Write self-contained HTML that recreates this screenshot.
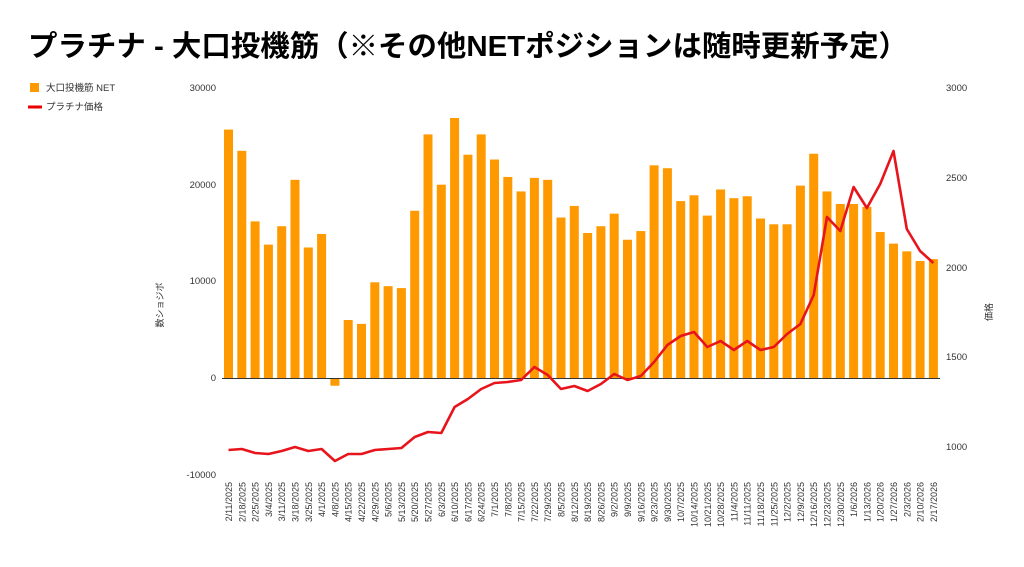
<!DOCTYPE html>
<html><head><meta charset="utf-8"><style>
body{margin:0;background:#fff;width:1024px;height:562px;overflow:hidden}
svg{font-family:"Liberation Sans","Noto Sans CJK JP",sans-serif}
</style></head><body>
<svg width="1024" height="562" viewBox="0 0 1024 562">
<text x="28" y="56" font-size="29" font-weight="bold" fill="#000" textLength="880" lengthAdjust="spacingAndGlyphs">プラチナ - 大口投機筋（※その他NETポジションは随時更新予定）</text>
<rect x="30" y="83" width="9" height="9" fill="#ff9900"/>
<text x="46" y="91" font-size="9.5" fill="#333">大口投機筋 NET</text>
<line x1="28" y1="107" x2="42" y2="107" stroke="#e00" stroke-width="3"/>
<text x="46" y="110" font-size="9.5" fill="#333">プラチナ価格</text>
<g font-size="9.5" fill="#333" text-anchor="end">
<text x="216" y="91">30000</text><text x="216" y="188">20000</text><text x="216" y="284">10000</text><text x="216" y="381">0</text><text x="216" y="478">-10000</text>
</g>
<g font-size="9.5" fill="#333">
<text x="946" y="91">3000</text><text x="946" y="181">2500</text><text x="946" y="271">2000</text><text x="946" y="360">1500</text><text x="946" y="450">1000</text>
</g>
<text transform="translate(163,305) rotate(-90)" font-size="9" fill="#333" text-anchor="middle">数ショジボ</text>
<text transform="translate(992,312) rotate(-90)" font-size="9" fill="#333" text-anchor="middle">価格</text>
<g transform="translate(0,378) scale(1,-0.009667)" fill="#ff9900">
<rect x="224" y="0" width="9" height="25700"/><rect x="237.3" y="0" width="9" height="23500"/><rect x="250.6" y="0" width="9" height="16200"/><rect x="263.9" y="0" width="9" height="13800"/><rect x="277.2" y="0" width="9" height="15700"/><rect x="290.5" y="0" width="9" height="20500"/><rect x="303.8" y="0" width="9" height="13500"/><rect x="317.1" y="0" width="9" height="14900"/><rect x="330.4" y="-800" width="9" height="800"/><rect x="343.7" y="0" width="9" height="6000"/><rect x="357" y="0" width="9" height="5600"/><rect x="370.3" y="0" width="9" height="9900"/><rect x="383.6" y="0" width="9" height="9500"/><rect x="396.9" y="0" width="9" height="9300"/><rect x="410.2" y="0" width="9" height="17300"/><rect x="423.5" y="0" width="9" height="25200"/><rect x="436.8" y="0" width="9" height="20000"/><rect x="450.1" y="0" width="9" height="26900"/><rect x="463.4" y="0" width="9" height="23100"/><rect x="476.7" y="0" width="9" height="25200"/><rect x="490" y="0" width="9" height="22600"/><rect x="503.3" y="0" width="9" height="20800"/><rect x="516.6" y="0" width="9" height="19300"/><rect x="529.9" y="0" width="9" height="20700"/><rect x="543.2" y="0" width="9" height="20500"/><rect x="556.5" y="0" width="9" height="16600"/><rect x="569.8" y="0" width="9" height="17800"/><rect x="583.1" y="0" width="9" height="15000"/><rect x="596.4" y="0" width="9" height="15700"/><rect x="609.7" y="0" width="9" height="17000"/><rect x="623" y="0" width="9" height="14300"/><rect x="636.3" y="0" width="9" height="15200"/><rect x="649.6" y="0" width="9" height="22000"/><rect x="662.9" y="0" width="9" height="21700"/><rect x="676.2" y="0" width="9" height="18300"/><rect x="689.5" y="0" width="9" height="18900"/><rect x="702.8" y="0" width="9" height="16800"/><rect x="716.1" y="0" width="9" height="19500"/><rect x="729.4" y="0" width="9" height="18600"/><rect x="742.7" y="0" width="9" height="18800"/><rect x="756" y="0" width="9" height="16500"/><rect x="769.3" y="0" width="9" height="15900"/><rect x="782.6" y="0" width="9" height="15900"/><rect x="795.9" y="0" width="9" height="19900"/><rect x="809.2" y="0" width="9" height="23200"/><rect x="822.5" y="0" width="9" height="19300"/><rect x="835.8" y="0" width="9" height="18000"/><rect x="849.1" y="0" width="9" height="18000"/><rect x="862.4" y="0" width="9" height="17700"/><rect x="875.7" y="0" width="9" height="15100"/><rect x="889" y="0" width="9" height="13900"/><rect x="902.3" y="0" width="9" height="13100"/><rect x="915.6" y="0" width="9" height="12100"/><rect x="928.9" y="0" width="9" height="12300"/>
</g>
<line x1="222" y1="378.5" x2="940" y2="378.5" stroke="#333" stroke-width="1"/>
<polyline fill="none" stroke="#e8141c" stroke-width="2.6" stroke-linejoin="round" points="228.5,450 241.8,449 255.1,453 268.4,454 281.7,451 295,447 308.3,451 321.6,449 334.9,461 348.2,454 361.5,454 374.8,450 388.1,449 401.4,448 414.7,437 428,432 441.3,433 454.6,407 467.9,399 481.2,389 494.5,383 507.8,382 521.1,380 534.4,367 547.7,375 561,389 574.3,386 587.6,391 600.9,384 614.2,374 627.5,380 640.8,376 654.1,362 667.4,345 680.7,336 694,332 707.3,347 720.6,341 733.9,350 747.2,341 760.5,350 773.8,347 787.1,334 800.4,324 813.7,295 827,217 840.3,231 853.6,187 866.9,208 880.2,184 893.5,151 906.8,229 920.1,251 933.4,263"/>
<g font-size="9" fill="#333" text-anchor="end">
<text transform="translate(232,482) rotate(-90)">2/11/2025</text><text transform="translate(245.3,482) rotate(-90)">2/18/2025</text><text transform="translate(258.6,482) rotate(-90)">2/25/2025</text><text transform="translate(271.9,482) rotate(-90)">3/4/2025</text><text transform="translate(285.2,482) rotate(-90)">3/11/2025</text><text transform="translate(298.5,482) rotate(-90)">3/18/2025</text><text transform="translate(311.8,482) rotate(-90)">3/25/2025</text><text transform="translate(325.1,482) rotate(-90)">4/1/2025</text><text transform="translate(338.4,482) rotate(-90)">4/8/2025</text><text transform="translate(351.7,482) rotate(-90)">4/15/2025</text><text transform="translate(365,482) rotate(-90)">4/22/2025</text><text transform="translate(378.3,482) rotate(-90)">4/29/2025</text><text transform="translate(391.6,482) rotate(-90)">5/6/2025</text><text transform="translate(404.9,482) rotate(-90)">5/13/2025</text><text transform="translate(418.2,482) rotate(-90)">5/20/2025</text><text transform="translate(431.5,482) rotate(-90)">5/27/2025</text><text transform="translate(444.8,482) rotate(-90)">6/3/2025</text><text transform="translate(458.1,482) rotate(-90)">6/10/2025</text><text transform="translate(471.4,482) rotate(-90)">6/17/2025</text><text transform="translate(484.7,482) rotate(-90)">6/24/2025</text><text transform="translate(498,482) rotate(-90)">7/1/2025</text><text transform="translate(511.3,482) rotate(-90)">7/8/2025</text><text transform="translate(524.6,482) rotate(-90)">7/15/2025</text><text transform="translate(537.9,482) rotate(-90)">7/22/2025</text><text transform="translate(551.2,482) rotate(-90)">7/29/2025</text><text transform="translate(564.5,482) rotate(-90)">8/5/2025</text><text transform="translate(577.8,482) rotate(-90)">8/12/2025</text><text transform="translate(591.1,482) rotate(-90)">8/19/2025</text><text transform="translate(604.4,482) rotate(-90)">8/26/2025</text><text transform="translate(617.7,482) rotate(-90)">9/2/2025</text><text transform="translate(631,482) rotate(-90)">9/9/2025</text><text transform="translate(644.3,482) rotate(-90)">9/16/2025</text><text transform="translate(657.6,482) rotate(-90)">9/23/2025</text><text transform="translate(670.9,482) rotate(-90)">9/30/2025</text><text transform="translate(684.2,482) rotate(-90)">10/7/2025</text><text transform="translate(697.5,482) rotate(-90)">10/14/2025</text><text transform="translate(710.8,482) rotate(-90)">10/21/2025</text><text transform="translate(724.1,482) rotate(-90)">10/28/2025</text><text transform="translate(737.4,482) rotate(-90)">11/4/2025</text><text transform="translate(750.7,482) rotate(-90)">11/11/2025</text><text transform="translate(764,482) rotate(-90)">11/18/2025</text><text transform="translate(777.3,482) rotate(-90)">11/25/2025</text><text transform="translate(790.6,482) rotate(-90)">12/2/2025</text><text transform="translate(803.9,482) rotate(-90)">12/9/2025</text><text transform="translate(817.2,482) rotate(-90)">12/16/2025</text><text transform="translate(830.5,482) rotate(-90)">12/23/2025</text><text transform="translate(843.8,482) rotate(-90)">12/30/2025</text><text transform="translate(857.1,482) rotate(-90)">1/6/2026</text><text transform="translate(870.4,482) rotate(-90)">1/13/2026</text><text transform="translate(883.7,482) rotate(-90)">1/20/2026</text><text transform="translate(897,482) rotate(-90)">1/27/2026</text><text transform="translate(910.3,482) rotate(-90)">2/3/2026</text><text transform="translate(923.6,482) rotate(-90)">2/10/2026</text><text transform="translate(936.9,482) rotate(-90)">2/17/2026</text>
</g>
</svg>
</body></html>
